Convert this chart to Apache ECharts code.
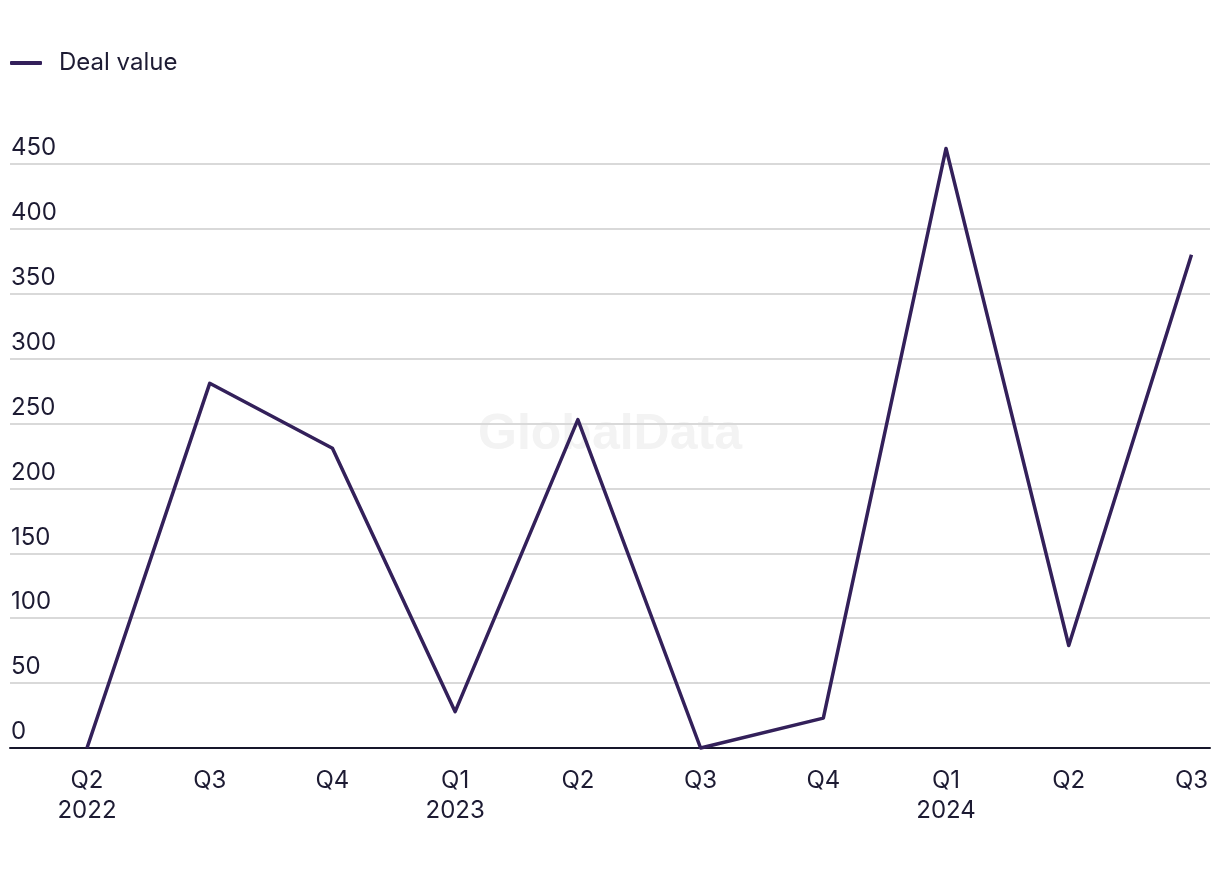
<!DOCTYPE html>
<html>
<head>
<meta charset="utf-8">
<script src="https://cdn.jsdelivr.net/npm/echarts@6/dist/echarts.min.js"></script>
<style>html,body{margin:0;padding:0;background:#fff}#c{width:1220px;height:870px}</style>
</head>
<body>
<div id="c"></div>
<script>
const quarters = ["Q2\n2022","Q3","Q4","Q1\n2023","Q2","Q3","Q4","Q1\n2024","Q2","Q3"];
const dealValue = [0, 281, 231, 28, 253, 0, 23, 462, 79, 380];
const yTicks = [0, 50, 100, 150, 200, 250, 300, 350, 400, 450];
const seriesName = "Deal value";

const chart = echarts.init(document.getElementById('c'));
const txt = '#1d1b33';
chart.setOption({
  animation: false,
  textStyle: { fontFamily: 'Inter' },
  legend: {
    left: 10, top: 51, padding: 0,
    icon: 'roundRect', itemWidth: 32, itemHeight: 4,
    textStyle: { fontFamily: 'Inter', fontSize: 24, color: txt, padding: [0,0,0,12] },
    data: [seriesName]
  },
  graphic: [{
    type: 'text', left: 'center', top: 410, z: 0,
    style: { text: 'GlobalData', fontFamily: 'Liberation Sans', fontWeight: 'bold', fontSize: 50, fill: '#f3f3f3' }
  }],
  grid: { left: 10, right: 10, top: 164, bottom: 122, containLabel: false },
  xAxis: {
    type: 'value',
    min: -0.6274, max: 9.151,
    splitLine: { show: false },
    axisTick: { show: false },
    axisLine: { show: true, lineStyle: { color: '#17162b', width: 2 } },
    axisLabel: {
      customValues: quarters.map((q, i) => i),
      formatter: v => quarters[Math.round(v)],
      fontFamily: 'Inter', fontSize: 24, color: txt, lineHeight: 30, margin: 18
    }
  },
  yAxis: {
    type: 'value', min: 0, max: 450, interval: 50,
    axisLine: { show: false }, axisTick: { show: false },
    splitLine: { lineStyle: { color: '#d9d9d9', width: 2 } },
    axisLabel: {
      inside: true, margin: 1, verticalAlign: 'bottom',
      fontFamily: 'Inter', fontSize: 24, color: txt, lineHeight: 24, padding: [0,0,4,0],
      formatter: v => yTicks.includes(v) ? String(v) : ''
    }
  },
  series: [{
    name: seriesName, type: 'line',
    data: dealValue.map((v, i) => [i, v]),
    showSymbol: false, symbol: 'none', clip: false,
    lineStyle: { color: '#33205a', width: 3.5, join: 'round' },
    itemStyle: { color: '#33205a' },
    z: 3
  }]
});
</script>
</body>
</html>
